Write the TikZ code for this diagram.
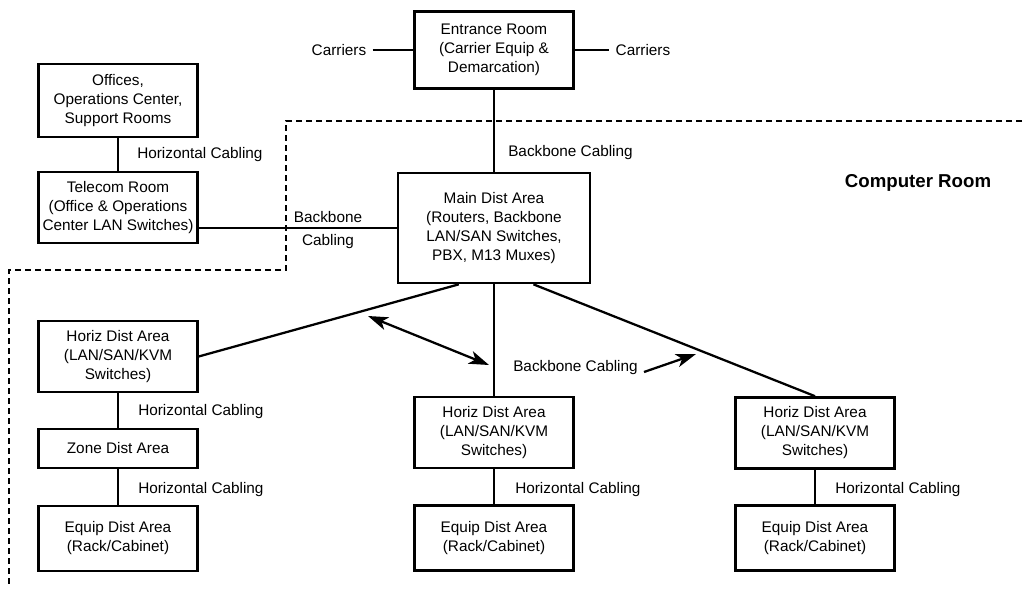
\documentclass[tikz,border=0pt]{standalone}
\usepackage{fontspec}
\setmainfont{Liberation Sans}
\usetikzlibrary{arrows.meta}
\tikzstyle{room} = [draw,line width=2pt,align=center,inner sep=0pt,minimum width=119pt,font=\fontsize{11.5}{14.25}\selectfont]
\tikzstyle{lbl} = [inner sep=0pt,font=\fontsize{11.5}{14.25}\selectfont]
\tikzstyle{cable} = [line width=1.7pt]
\tikzstyle{arrow} = [line width=1.7pt,-{Stealth[length=15pt,width=10pt,inset=4pt]}]
\tikzstyle{dblarrow} = [line width=1.7pt,{Stealth[length=15pt,width=10pt,inset=4pt]}-{Stealth[length=15pt,width=10pt,inset=4pt]}]
\tikzstyle{wall} = [line width=1.8pt,dash pattern=on 4.5pt off 3pt]

\begin{document}
\begin{tikzpicture}[x=0.75pt,y=-0.75pt]
	\def \hda {53.25pt}
	\def \eda {48.75pt}
	\useasboundingbox (0,0) rectangle (1025,590);

	% entrance and carriers
	\node (ent) at (494,50) [room,minimum height=57.75pt] {Entrance Room\\(Carrier Equip \&\\Demarcation)};
	\node (carA) at (339,50) [lbl,inner sep=4.5pt] {Carriers};
	\node (carB) at (643,50) [lbl,inner sep=4.5pt] {Carriers};
	\draw [cable] (carA) -- (ent);
	\draw [cable] (ent) -- (carB);

	% offices side
	\node (off) at (118,100.5) [room,minimum height=54.75pt] {Offices,\\Operations Center,\\Support Rooms};
	\node (tel) at (118,207.5) [room,minimum height=\hda] {Telecom Room\\(Office \& Operations\\Center LAN Switches)};
	\draw [cable] (off) -- (tel);
	\node (hcA) at (137,155) [lbl,anchor=west] {Horizontal Cabling};

	% main dist area
	\node (main) at (494,228) [room,minimum width=144pt,minimum height=82.5pt] {Main Dist Area\\(Routers, Backbone\\LAN/SAN Switches,\\PBX, M13 Muxes)};
	\draw [cable] (ent) -- (main);
	\node (bcA) at (508,153) [lbl,anchor=west] {Backbone Cabling};
	\draw [cable] (main.west) -- (main.west -| tel.east);
	\node (bcB) at (328,217) [lbl] {Backbone};
	\node (bcC) at (328,242) [lbl] {Cabling};
	\node (crm) at (918,183) [lbl,font=\fontsize{14}{16}\selectfont\bfseries] {Computer Room};

	% computer room boundary
	\draw [wall] (1022,121) -- (286,121) -- (286,270) -- (9,270) -- (9,588);

	% horizontal dist areas
	\node (hdaA) at (118,356.5) [room,minimum height=\hda] {Horiz Dist Area\\(LAN/SAN/KVM\\Switches)};
	\node (hdaB) at (494,432.5) [room,minimum height=\hda] {Horiz Dist Area\\(LAN/SAN/KVM\\Switches)};
	\node (hdaC) at (815,433) [room,minimum height=\hda] {Horiz Dist Area\\(LAN/SAN/KVM\\Switches)};
	\draw [cable] (hdaA.east) -- (main.238);
	\draw [cable] (main) -- (hdaB);
	\draw [cable] (main.305) -- (hdaC.north);
	\node (zda) at (118,448.5) [room,minimum height=29.25pt] {Zone Dist Area};
	\draw [cable] (hdaA) -- (zda);

	% equip dist areas
	\node (edaA) at (118,538.5) [room,minimum height=\eda] {Equip Dist Area\\(Rack/Cabinet)};
	\draw [cable] (zda) -- (edaA);
	\foreach \n/\x in {B/494,C/815} {
		\node (eda\n) at (\x,538) [room,minimum height=\eda] {Equip Dist Area\\(Rack/Cabinet)};
		\draw [cable] (hda\n) -- (eda\n);
	}
	\foreach \n/\x/\y in {B/138/412,C/138/490,D/515/490,E/835/490} {
		\node (hc\n) at (\x,\y) [lbl,anchor=west] {Horizontal Cabling};
	}

	% backbone cabling arrows
	\node (bcD) at (513,368) [lbl,anchor=west] {Backbone Cabling};
	\coordinate (pA) at (368,316);
	\coordinate (pB) at (489,365);
	\coordinate (pC) at (644,372);
	\coordinate (pD) at (696,354);
	\draw [dblarrow] (pA) -- (pB);
	\draw [arrow] (pC) -- (pD);
\end{tikzpicture}
\end{document}
